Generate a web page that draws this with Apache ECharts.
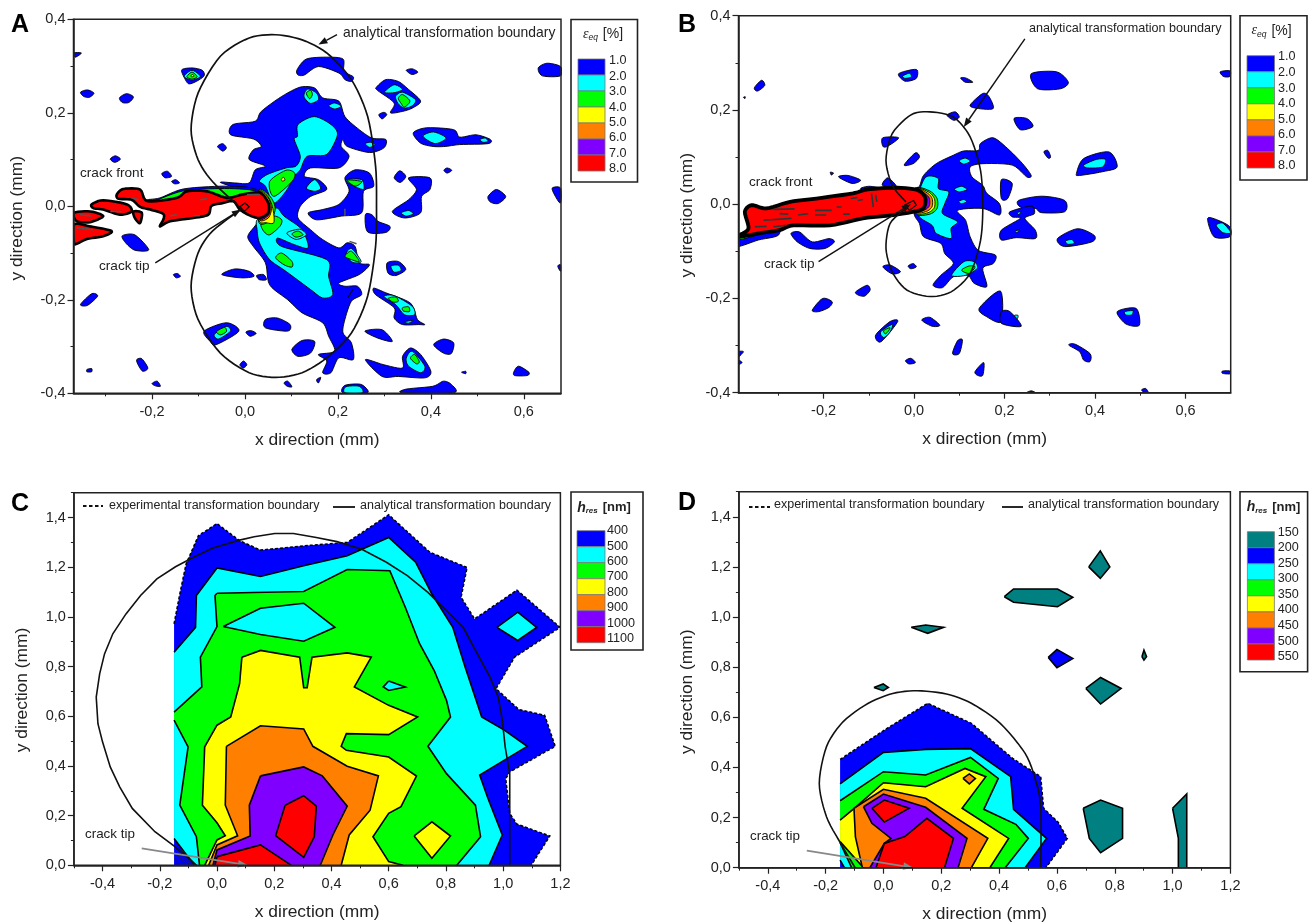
<!DOCTYPE html>
<html><head><meta charset="utf-8">
<script src="https://cdn.jsdelivr.net/npm/echarts@6/dist/echarts.min.js"></script>
<style>html,body{margin:0;padding:0;background:#fff}#c{width:1310px;height:922px}</style></head>
<body><div id="c"></div>
<script>
// ---------- colour scale labels ----------
const strainLevels=['1.0','2.0','3.0','4.0','5.0','6.0','7.0','8.0'];
const heightLevelsC=['400','500','600','700','800','900','1000','1100'];
const heightLevelsD=['150','200','250','300','350','400','450','500','550'];
const xTicksAB=[-0.2,0,0.2,0.4,0.6];
const xMinorA=[-0.3,-0.1,0.1,0.3,0.5];
const xMinorB=[-0.3,-0.1,0.1,0.3,0.5];
const yTicksAB=[-0.4,-0.2,0,0.2,0.4];
const yMinorAB=[-0.3,-0.1,0.1,0.3];
const xTicksCD=[-0.4,-0.2,0,0.2,0.4,0.6,0.8,1.0,1.2];
const xMinorCD=[-0.5,-0.3,-0.1,0.1,0.3,0.5,0.7,0.9,1.1];
const yTicksCD=[0,0.2,0.4,0.6,0.8,1.0,1.2,1.4];
const yMinorCD=[0.1,0.3,0.5,0.7,0.9,1.1,1.3,1.5];

// ---------- panel A (x mm, y mm) ----------
const aBoundary=[[-.009,-.004],[-.07,.053],[-.101,.1],[-.116,.164],[-.101,.242],[-.053,.321],[.009,.36],[.066,.367],[.123,.356],[.176,.328],[.229,.271],[.264,.192],[.281,.086],[.283,0],[.281,-.086],[.264,-.192],[.229,-.271],[.176,-.324],[.123,-.356],[.066,-.366],[.009,-.356],[-.053,-.314],[-.101,-.242],[-.116,-.171],[-.101,-.1],[-.07,-.053],[-.009,-.007]];
const aBlue=[
[[-.37,.328],[-.352,.328],[-.365,.319]],
[[-.136,.292],[-.114,.296],[-.092,.291],[-.088,.279],[-.105,.267],[-.121,.262],[-.13,.274]],
[[-.354,.244],[-.339,.249],[-.325,.242],[-.335,.233],[-.347,.235]],
[[-.27,.232],[-.255,.241],[-.24,.234],[-.25,.222],[-.264,.222]],
[[.112,.292],[.132,.315],[.176,.319],[.211,.315],[.213,.289],[.233,.277],[.229,.267],[.215,.271],[.202,.285],[.158,.299],[.128,.281],[.114,.281]],
[[.347,.291],[.36,.294],[.372,.287],[.359,.282]],
[[.283,.255],[.303,.271],[.33,.267],[.352,.25],[.378,.225],[.36,.21],[.339,.203],[.313,.2],[.321,.221],[.285,.248]],
[[.631,.296],[.65,.306],[.679,.299],[.679,.279],[.64,.279]],
[[.288,.196],[.299,.201],[.305,.196],[.295,.187]],
[[-.053,.051],[-.022,.05],[.009,.05],[.022,.078],[.044,.086],[.009,.1],[.018,.121],[.035,.128],[.018,.144],[-.031,.153],[-.026,.175],[.022,.182],[.035,.203],[.079,.235],[.119,.255],[.15,.253],[.167,.232],[.202,.225],[.215,.192],[.242,.167],[.273,.146],[.303,.143],[.299,.125],[.268,.115],[.22,.128],[.211,.143],[.207,.128],[.224,.107],[.202,.082],[.141,.082],[.128,.064],[.158,.057],[.176,.036],[.141,.021],[.119,0],[.114,-.025],[.141,-.05],[.167,-.071],[.202,-.089],[.22,-.078],[.237,-.086],[.246,-.121],[.268,-.125],[.246,-.146],[.202,-.164],[.215,-.171],[.242,-.171],[.251,-.189],[.229,-.203],[.215,-.242],[.211,-.271],[.229,-.292],[.233,-.328],[.202,-.324],[.185,-.356],[.167,-.356],[.176,-.331],[.158,-.317],[.193,-.31],[.18,-.278],[.167,-.249],[.123,-.228],[.092,-.2],[.053,-.168],[.044,-.121],[.018,-.086],[.006,-.064],[.026,-.036],[.035,-.014],[0,.03]],
[[.215,.061],[.237,.078],[.268,.071],[.277,.043],[.255,.032],[.251,-.014],[.207,-.021],[.154,-.029],[.136,-.014],[.167,-.007],[.202,.004],[.224,.032]],
[[.259,-.018],[.273,-.018],[.286,-.032],[.312,-.043],[.303,-.056],[.264,-.055]],
[[.321,.061],[.333,.076],[.346,.064],[.334,.051]],
[[.352,.061],[.398,.061],[.398,.036],[.38,.021],[.378,-.014],[.343,-.025],[.317,-.011],[.352,.014],[.369,.036]],
[[.428,.077],[.435,.082],[.445,.077],[.435,.071]],
[[.523,.021],[.541,.036],[.561,.021],[.545,.006],[.528,.009]],
[[.661,.039],[.679,.039],[.679,.007],[.668,.021]],
[[.362,.157],[.391,.168],[.449,.164],[.462,.148],[.497,.153],[.528,.143],[.523,.134],[.462,.132],[.431,.128],[.405,.128],[.378,.135]],
[[-.059,.128],[-.048,.134],[-.04,.125],[-.048,.118]],
[[-.29,.101],[-.279,.108],[-.268,.101],[-.28,.094]],
[[-.179,.07],[-.167,.075],[-.158,.064],[-.172,.061]],
[[-.158,.053],[-.149,.057],[-.141,.05],[-.151,.048]],
[[-.264,-.063],[-.237,-.061],[-.207,-.093],[-.237,-.094],[-.257,-.078]],
[[-.154,-.146],[-.145,-.144],[-.139,-.15],[-.148,-.153]],
[[-.05,-.146],[-.022,-.134],[.009,-.139],[.019,-.15],[-.009,-.153]],
[[.025,-.148],[.04,-.146],[.046,-.157],[.031,-.157]],
[[-.354,-.21],[-.33,-.187],[-.317,-.192],[-.339,-.212]],
[[.044,-.242],[.07,-.239],[.097,-.253],[.092,-.267],[.044,-.26]],
[[-.088,-.267],[-.04,-.249],[-.013,-.267],[-.062,-.296],[-.075,-.289]],
[[.002,-.269],[.013,-.266],[.024,-.272],[.011,-.278]],
[[.258,-.267],[.295,-.264],[.317,-.289],[.286,-.282]],
[[.101,-.306],[.123,-.287],[.15,-.289],[.141,-.314],[.114,-.321]],
[[.406,-.296],[.427,-.284],[.449,-.292],[.444,-.315],[.427,-.314]],
[[.339,-.321],[.356,-.303],[.378,-.317],[.4,-.353],[.387,-.367],[.33,-.364],[.295,-.364],[.259,-.328],[.299,-.339],[.339,-.346]],
[[-.233,-.328],[-.222,-.326],[-.209,-.346],[-.22,-.353],[-.23,-.339]],
[[-.34,-.349],[-.33,-.347],[-.33,-.354],[-.34,-.354]],
[[-.011,-.339],[-.003,-.331],[.004,-.339],[-.004,-.346]],
[[-.2,-.379],[-.189,-.374],[-.182,-.385],[-.193,-.384]],
[[.084,-.378],[.092,-.374],[.101,-.386],[.091,-.385]],
[[.154,-.371],[.163,-.366],[.158,-.378]],
[[.579,-.353],[.589,-.342],[.611,-.355],[.607,-.362],[.58,-.362]],
[[.466,-.355],[.475,-.353],[.475,-.358]],
[[.673,-.128],[.679,-.125],[.679,-.139]],
[[.306,-.121],[.33,-.118],[.346,-.135],[.325,-.148],[.308,-.143]],
[[.277,-.175],[.303,-.185],[.356,-.207],[.371,-.242],[.387,-.253],[.374,-.253],[.339,-.253],[.321,-.239],[.321,-.217],[.281,-.189]],
[[.211,-.399],[.215,-.383],[.25,-.381],[.264,-.399]],
[[.339,-.399],[.347,-.391],[.404,-.385],[.427,-.374],[.444,-.381],[.449,-.399]],
[[-.21,.014],[-.183,.018],[-.133,.037],[-.054,.043],[.004,.041],[.032,.032],[.032,.02],[-.039,.016],[-.082,.03],[-.125,.03],[-.147,.015],[-.21,.008]]
];
const aCyan=[
[[-.131,.278],[-.114,.291],[-.096,.278],[-.114,.27]],
[[.113,.15],[.114,.175],[.149,.192],[.185,.175],[.199,.153],[.176,.111],[.134,.107],[.119,.078],[.106,.064],[.088,.032],[.062,.007],[.044,.043],[.031,.054],[.048,.068],[.088,.082],[.11,.086],[.119,.107],[.106,.143]],
[[.026,-.029],[.053,-.011],[.07,-.004],[.084,-.021],[.123,-.05],[.136,-.089],[.106,-.082],[.07,-.068],[.079,-.086],[.176,-.114],[.18,-.15],[.189,-.189],[.167,-.196],[.141,-.178],[.088,-.139],[.053,-.114],[.031,-.078],[.026,-.05]],
[[.09,-.057],[.118,-.049],[.132,-.061],[.11,-.071]],
[[.132,.039],[.15,.057],[.163,.039],[.15,.032]],
[[.18,.215],[.193,.221],[.207,.214],[.193,.208]],
[[.128,.242],[.136,.251],[.154,.242],[.158,.228],[.141,.22],[.128,.232]],
[[.259,.134],[.27,.137],[.28,.132],[.268,.126]],
[[.218,.057],[.251,.057],[.255,.036],[.229,.046]],
[[.336,-.014],[.352,-.009],[.362,-.016],[.347,-.021]],
[[.383,.15],[.406,.159],[.433,.146],[.409,.134]],
[[.506,.143],[.517,.146],[.523,.139],[.512,.137]],
[[.3,.244],[.321,.26],[.339,.25],[.321,.243]],
[[.324,.235],[.339,.244],[.367,.228],[.36,.215],[.343,.21],[.33,.219]],
[[.217,-.104],[.229,-.09],[.25,-.118],[.232,-.12]],
[[.225,-.19],[.232,-.178],[.222,-.195]],
[[-.066,-.274],[-.04,-.257],[-.031,-.267],[-.057,-.284]],
[[.314,-.128],[.33,-.126],[.336,-.137],[.321,-.141]],
[[.299,-.193],[.321,-.191],[.36,-.214],[.365,-.232],[.343,-.232],[.325,-.211]],
[[.343,-.247],[.362,-.244],[.352,-.25]],
[[.347,-.325],[.36,-.31],[.387,-.342],[.378,-.356],[.352,-.342]],
[[.215,-.399],[.217,-.386],[.246,-.385],[.253,-.399]]
];
const aGreen=[
[[-.125,.277],[-.114,.287],[-.103,.277],[-.114,.272]],
[[.053,.053],[.088,.077],[.107,.071],[.101,.053],[.062,.021]],
[[.035,-.036],[.062,-.021],[.079,-.029],[.075,-.043],[.053,-.061],[.04,-.053]],
[[.066,-.11],[.079,-.1],[.101,-.118],[.101,-.13],[.084,-.125]],
[[.101,-.059],[.114,-.053],[.125,-.061],[.11,-.066]],
[[.132,.242],[.141,.248],[.145,.239],[.139,.23]],
[[.22,.056],[.251,.053],[.237,.043]],
[[.33,.231],[.339,.239],[.355,.225],[.343,.212],[.336,.22]],
[[.215,-.107],[.229,-.096],[.246,-.118],[.229,-.114]],
[[-.061,-.268],[-.044,-.259],[-.04,-.268],[-.053,-.275]],
[[.308,-.197],[.324,-.194],[.33,-.203],[.319,-.205]],
[[.339,-.217],[.352,-.215],[.354,-.225],[.341,-.224]],
[[.356,-.325],[.365,-.317],[.375,-.332],[.369,-.337]],
[[-.19,.012],[-.133,.033],[-.054,.038],[.004,.036],[.03,.03],[.03,.022],[-.039,.018],[-.082,.03],[-.125,.03],[-.147,.017]],
[[.03,.035],[.055,.02],[.065,-.005],[.055,-.03],[.03,-.035]]
];
const aYellow=[[[.078,.058],[.083,.062],[.086,.056],[.08,.054]],[[-.116,.28],[-.112,.282],[-.11,.278],[-.115,.277]],[[.03,.033],[.05,.02],[.06,-.005],[.062,-.035],[.045,-.035],[.03,-.03]]];
const aOrange=[[[.03,.031],[.05,.018],[.057,-.005],[.05,-.025],[.03,-.028]]];
const aPurple=[[[.03,.03],[.05,.012],[.054,-.005],[.05,-.02],[.03,-.027]]];
const aRed=[
[[-.276,.025],[-.262,.037],[-.226,.036],[-.21,.011],[-.147,.018],[-.125,.032],[-.082,.032],[-.039,.018],[-.007,.025],[.032,.029],[.05,.007],[.05,-.014],[.032,-.025],[.011,-.02],[-.011,-.007],[-.025,.011],[-.047,.007],[-.072,.001],[-.079,-.018],[-.111,-.025],[-.161,-.032],[-.183,-.043],[-.176,-.029],[-.176,-.016],[-.204,-.007],[-.226,-.001],[-.244,.014],[-.272,.016]],
[[-.33,.004],[-.305,.013],[-.254,.004],[-.244,-.011],[-.269,-.018],[-.305,-.007],[-.326,-.004]],
[[-.24,-.011],[-.222,-.014],[-.226,-.036],[-.237,-.025]],
[[-.368,-.014],[-.333,-.011],[-.305,-.021],[-.333,-.034],[-.362,-.032]],
[[-.368,-.039],[-.333,-.043],[-.287,-.053],[-.305,-.064],[-.34,-.07],[-.362,-.08],[-.368,-.078]]
];
const aSpecks=[[-.355,-.018,-.33,-.021],[-.362,-.046,-.326,-.05],[-.29,-.011,-.265,-.011],[-.244,.018,-.229,.014],[-.097,.014,-.082,.016],[-.161,-.02,-.147,-.018],[-.111,-.02,-.097,-.02],[.004,.025,.032,.025],[.215,-.005,.215,-.02],[.225,-.075,.24,-.08]];
const aTip=[[[-.011,-.001],[0,.007],[.009,-.001],[-.001,-.011]]];
const aArrows=[[.198,.367,.158,.346],[-.193,-.121,-.009,-.007]];

// ---------- panel B ----------
const bBoundary=[[-.018,.005],[-.048,.04],[-.062,.093],[-.048,.15],[-.006,.19],[.035,.196],[.087,.185],[.124,.143],[.147,.072],[.152,-.006],[.147,-.077],[.124,-.147],[.082,-.186],[.035,-.196],[-.016,-.182],[-.048,-.144],[-.062,-.094],[-.053,-.041],[-.018,-.009]];
const bBlue=[
[[.012,.038],[.021,.061],[.049,.086],[.087,.104],[.11,.113],[.142,.114],[.147,.129],[.175,.141],[.207,.118],[.24,.086],[.259,.061],[.249,.058],[.217,.083],[.152,.086],[.124,.079],[.128,.058],[.152,.04],[.161,.023],[.189,.001],[.189,-.023],[.152,-.009],[.096,-.013],[.114,-.034],[.124,-.069],[.142,-.098],[.18,-.108],[.175,-.126],[.152,-.136],[.161,-.175],[.133,-.168],[.119,-.151],[.087,-.154],[.063,-.177],[.042,-.172],[.059,-.151],[.087,-.126],[.068,-.105],[.059,-.083],[.021,-.069],[.012,-.041],[0,-.02],[0,.03]],
[[-.034,.277],[.005,.286],[.005,.267],[-.02,.261]],
[[.103,.268],[.114,.268],[.13,.259],[.113,.259]],
[[.259,.277],[.315,.281],[.341,.259],[.324,.245],[.273,.245]],
[[-.353,.247],[-.337,.263],[-.33,.252],[-.346,.24]],
[[-.377,.227],[-.373,.228],[-.374,.224]],
[[.677,.281],[.698,.283],[.698,.271],[.684,.271]],
[[.124,.21],[.152,.235],[.166,.228],[.175,.203],[.142,.203]],
[[.073,.189],[.091,.196],[.1,.185],[.088,.178]],
[[.221,.182],[.249,.182],[.263,.165],[.235,.158]],
[[-.069,.141],[-.034,.141],[-.058,.123],[-.069,.123]],
[[-.022,.083],[.003,.109],[.012,.1],[-.002,.086]],
[[.287,.111],[.296,.114],[.302,.1],[.296,.098]],
[[.359,.065],[.375,.097],[.431,.111],[.449,.079],[.417,.069],[.366,.061]],
[[-.185,.068],[-.178,.066],[-.183,.062]],
[[-.167,.058],[-.146,.061],[-.118,.051],[-.137,.044]],
[[-.07,.04],[-.058,.056],[-.039,.037]],
[[-.118,.033],[-.1,.038],[-.076,.035],[-.062,.033],[-.09,.025]],
[[.193,.052],[.217,.044],[.207,.012],[.193,.012]],
[[.231,.008],[.282,.017],[.333,.008],[.333,-.016],[.282,-.018],[.268,-.009],[.235,-.006]],
[[.212,-.016],[.259,-.004],[.266,-.02],[.245,-.03],[.268,-.055],[.268,-.073],[.226,-.071],[.193,-.076],[.193,-.055],[.235,-.03],[.217,-.027]],
[[.317,-.073],[.361,-.052],[.398,-.066],[.393,-.08],[.333,-.09]],
[[.649,-.03],[.672,-.034],[.698,-.048],[.698,-.069],[.663,-.069]],
[[-.272,-.062],[-.253,-.059],[-.225,-.08],[-.188,-.073],[-.176,-.08],[-.197,-.094],[-.23,-.094],[-.258,-.08]],
[[-.069,-.133],[-.053,-.129],[-.03,-.143],[-.048,-.148]],
[[-.013,-.131],[-.002,-.126],[.005,-.133],[-.007,-.137]],
[[-.129,-.186],[-.104,-.172],[-.097,-.182],[-.109,-.195],[-.123,-.193]],
[[-.225,-.225],[-.202,-.2],[-.181,-.207],[-.188,-.219],[-.211,-.228]],
[[.144,-.221],[.191,-.184],[.193,-.249],[.161,-.239]],
[[.193,-.228],[.212,-.228],[.237,-.259],[.193,-.253]],
[[.017,-.246],[.035,-.24],[.057,-.257],[.04,-.259]],
[[-.085,-.278],[-.053,-.249],[-.036,-.249],[-.073,-.292]],
[[.449,-.228],[.491,-.221],[.498,-.257],[.468,-.254]],
[[.096,-.29],[.107,-.288],[.1,-.317],[.085,-.317]],
[[.342,-.299],[.356,-.297],[.389,-.317],[.389,-.334],[.375,-.331],[.366,-.313]],
[[-.019,-.332],[-.007,-.327],[.003,-.336],[-.011,-.339]],
[[.135,-.355],[.154,-.336],[.152,-.363],[.14,-.363]],
[[-.388,-.313],[-.377,-.313],[-.388,-.324]],
[[-.388,-.331],[-.38,-.336],[-.388,-.34]],
[[.682,-.354],[.698,-.354],[.698,-.36],[.682,-.359]],
[[.503,-.394],[.512,-.391],[.518,-.4],[.509,-.4]],
[[.249,-.4],[.259,-.396],[.268,-.4]],
[[-.39,-.072],[-.35,-.05],[-.3,-.04],[-.3,-.066],[-.344,-.076],[-.39,-.09]]
];
const bCyan=[
[[.021,.051],[.035,.06],[.054,.054],[.054,.033],[.077,.026],[.068,.001],[.063,-.02],[.096,-.037],[.082,-.051],[.082,-.073],[.049,-.062],[.04,-.045],[.012,-.027],[.003,.001]],
[[.1,.092],[.113,.098],[.124,.091],[.11,.085]],
[[.089,.032],[.105,.038],[.117,.031],[.1,.026]],
[[.099,.006],[.11,.01],[.116,.005],[.105,.001]],
[[.083,-.151],[.11,-.122],[.133,-.122],[.14,-.136],[.114,-.151]],
[[-.025,.272],[-.01,.278],[-.006,.27],[-.02,.267]],
[[.375,.083],[.403,.095],[.423,.095],[.417,.079],[.384,.077]],
[[.335,-.078],[.349,-.075],[.354,-.083],[.34,-.085]],
[[.668,-.045],[.682,-.04],[.698,-.056],[.698,-.062],[.682,-.06]],
[[-.074,-.271],[-.048,-.255],[-.053,-.271],[-.067,-.283]],
[[.466,-.228],[.484,-.226],[.481,-.235],[.468,-.235]],
[[.222,-.236],[.23,-.236],[.228,-.243]],
[[.228,-.018],[.236,-.016],[.232,-.022]],[[.223,-.057],[.232,-.055],[.228,-.06]]
];
const bGreen=[[[.105,-.14],[.122,-.131],[.135,-.133],[.122,-.147]],[[-.067,-.268],[-.053,-.262],[-.058,-.271],[-.064,-.275]],[[-.39,-.066],[-.35,-.05],[-.33,-.048],[-.344,-.064],[-.39,-.076]],[[.005,.033],[.035,.028],[.051,.012],[.051,-.009],[.035,-.021],[.005,-.02]]];
const bYellow=[[[.005,.032],[.032,.026],[.045,.012],[.045,-.007],[.031,-.018],[.005,-.018]],[[-.39,-.064],[-.35,-.05],[-.335,-.05],[-.35,-.062],[-.39,-.071]]];
const bOrange=[[[.005,.032],[.029,.024],[.04,.012],[.04,-.005],[.028,-.015],[.005,-.016]]];
const bPurple=[[[.005,.031],[.026,.021],[.034,.012],[.034,-.003],[.024,-.012],[.005,-.014]]];
const bRed=[[[-.389,-.069],[-.366,-.052],[-.374,-.016],[-.359,-.002],[-.326,-.009],[-.274,.005],[-.216,.012],[-.135,.023],[-.105,.031],[-.046,.035],[.005,.031],[.024,.016],[.024,-.002],[.013,-.013],[-.046,-.023],[-.113,-.03],[-.186,-.045],[-.267,-.045],[-.297,-.055],[-.344,-.062]]];
const bSpecks=[[-.311,-.011,-.264,-.01],[-.219,-.013,-.182,-.013],[-.219,-.023,-.194,-.023],[-.333,-.034,-.271,-.03],[-.352,-.048,-.326,-.047],[-.124,.008,-.113,.01],[-.094,.023,-.09,-.006],[-.171,-.006,-.16,-.006],[-.297,-.02,-.278,-.021],[-.157,-.021,-.142,-.021],[-.256,-.023,-.234,-.02],[-.311,-.048,-.282,-.045],[-.085,.02,-.082,.005],[-.14,.012,-.125,.014]];
const bTip=[[[-.021,-.002],[-.001,.008],[.005,-.002],[-.01,-.013]]];
const bArrows=[[.245,.351,.11,.164],[-.211,-.122,-.007,0]];

// ---------- panel C ----------
const cBoundary=[[-.072,0],[-.147,.075],[-.217,.135],[-.296,.229],[-.34,.316],[-.373,.396],[-.4,.497],[-.416,.57],[-.422,.677],[-.41,.771],[-.393,.851],[-.364,.932],[-.318,1.012],[-.267,1.086],[-.21,1.153],[-.145,1.202],[-.087,1.237],[-.014,1.277],[.079,1.309],[.13,1.323],[.202,1.336],[.267,1.336],[.347,1.32],[.419,1.303],[.506,1.272],[.592,1.22],[.665,1.166],[.737,1.099],[.802,1.025],[.86,.958],[.91,.851],[.954,.758],[.983,.677],[.997,.584],[1.007,.477],[1.023,.369],[1.023,0]];
const cBlue=[[[-.15,.972],[-.13,1.092],[-.108,1.213],[-.065,1.327],[0,1.376],[.079,1.307],[.152,1.269],[.303,1.286],[.455,1.3],[.6,1.411],[.744,1.26],[.874,1.199],[.853,1.079],[.9,.992],[1.048,1.108],[1.199,.958],[1.04,.838],[.975,.711],[1.055,.627],[1.145,.604],[1.182,.479],[1.023,.376],[1.009,.349],[1.023,.209],[1.048,.166],[1.163,.118],[1.098,0],[-.15,0]]];
const cCyan=[[[-.15,.858],[-.075,.958],[-.072,1.086],[0,1.197],[.152,1.163],[.303,1.206],[.455,1.246],[.6,1.32],[.694,1.22],[.751,1.092],[.824,.958],[.867,.798],[.925,.597],[1.004,.544],[1.084,.479],[.918,.363],[.947,.269],[.997,.122],[.951,0],[-.079,0],[-.15,.108]]];
const cGreen=[[[0,1.095],[.303,1.102],[.455,1.191],[.604,1.186],[.658,1.039],[.708,.892],[.759,.784],[.802,.664],[.816,.597],[.737,.479],[.802,.369],[.903,.242],[.921,.115],[.838,0],[-.061,0],[-.072,.115],[-.13,.242],[-.101,.477],[-.15,.584],[-.15,.617],[-.053,.718],[-.058,.838],[0,.961],[-.007,1.086]]];
const cCyanIslands=[[[.022,.961],[.152,1.035],[.303,1.055],[.412,.958],[.303,.902],[.152,.929]],[[.6,.742],[.658,.718],[.6,.704],[.581,.718]],[[.978,.958],[1.051,1.019],[1.117,.958],[1.051,.905]]];
const cYellow=[[[.087,.838],[.152,.865],[.289,.838],[.303,.715],[.315,.715],[.332,.838],[.455,.855],[.539,.838],[.48,.718],[.6,.644],[.701,.597],[.6,.526],[.452,.53],[.434,.479],[.452,.463],[.6,.436],[.697,.359],[.643,.236],[.6,.209],[.545,.115],[.6,.015],[.65,0],[-.043,0],[0,.102],[.029,.119],[0,.171],[-.051,.242],[-.043,.477],[0,.564],[.048,.597],[.079,.731]],[[.689,.118],[.751,.175],[.816,.118],[.751,.028]]];
const cOrange=[[[.033,.479],[.152,.562],[.303,.549],[.335,.479],[.455,.399],[.564,.36],[.535,.222],[.462,.122],[.434,0],[-.029,0],[0,.082],[.072,.119],[.029,.242]]];
const cPurple=[[[.152,.36],[.303,.396],[.368,.36],[.455,.238],[.405,.122],[.361,0],[-.014,0],[0,.062],[.116,.118],[.113,.242]]];
const cRed=[[[.238,.242],[.303,.28],[.347,.238],[.34,.115],[.303,.032],[.205,.119]],[[0,.035],[.152,.082],[.26,0],[-.007,0]]];
const cHatch=[[-.15,.03,-.12,0],[-.15,.05,-.1,0],[-.145,.06,-.09,0],[-.135,.065,-.08,0],[-.125,.065,-.07,0]];
const cArrow=[[-.263,.068,.108,0]];

// ---------- panel D ----------
const dBoundary=[[.544,0],[.544,.243],[.526,.35],[.49,.456],[.404,.576],[.304,.656],[.218,.693],[.117,.706],[.032,.695],[-.054,.655],[-.14,.582],[-.197,.483],[-.222,.336],[-.197,.203],[-.148,.097],[-.098,0]];
const dBlueMain=[[[-.15,.432],[.003,.549],[.153,.656],[.304,.576],[.447,.436],[.544,.363],[.554,.237],[.605,.18],[.636,.117],[.562,0],[-.15,0]]];
const dCyan=[[[-.15,.334],[0,.46],[.146,.472],[.301,.475],[.44,.363],[.45,.233],[.564,.117],[.49,0],[-.135,0],[-.15,.03]]];
const dGreen=[[[-.15,.267],[0,.383],[.146,.37],[.301,.44],[.397,.356],[.347,.233],[.458,.173],[.501,.117],[.421,0],[-.11,0],[-.15,.1]]];
const dYellow=[[[-.15,.19],[-.097,.241],[0,.339],[.146,.323],[.282,.396],[.354,.363],[.272,.237],[.433,.117],[.368,0],[-.069,0],[-.15,.104]]];
const dOrange=[[[-.102,.237],[0,.313],[.146,.277],[.361,.117],[.304,0],[-.073,0],[-.097,.123]],[[.275,.356],[.297,.374],[.318,.356],[.297,.334]]];
const dPurple=[[[-.069,.243],[0,.294],[.146,.241],[.289,.117],[.258,0],[-.047,0],[.003,.097],[.026,.117],[-.04,.177]]];
const dRed=[[[-.04,.237],[.003,.27],[.089,.237],[.003,.182]],[[-.026,0],[.003,.097],[.074,.124],[.15,.197],[.242,.117],[.211,0]]];
const dTeal=[[[.71,1.2],[.75,1.264],[.783,1.2],[.75,1.154]],[[.418,1.081],[.45,1.112],[.602,1.112],[.655,1.079],[.602,1.041],[.45,1.059]],[[.096,.959],[.146,.968],[.208,.959],[.153,.935]],[[.894,.842],[.901,.868],[.91,.842],[.901,.828]],[[-.033,.719],[-.001,.733],[.017,.719],[-.001,.706]],[[.7,.715],[.751,.759],[.822,.715],[.751,.653]],[[.691,.237],[.751,.27],[.827,.237],[.827,.117],[.751,.06],[.712,.117]],[[1,.237],[1.049,.294],[1.049,0],[1.02,0],[1.02,.117],[1.01,.177]]];
const dBlueIsland=[[[.57,.839],[.6,.871],[.655,.835],[.6,.798]]];
const dArrow=[[-.265,.068,.103,0]];

// ---------- styling ----------
const KEY=['#0000ff','#00ffff','#00ff00','#ffff00','#ff8000','#8000ff','#ff0000'];
const [BLUE,CYAN,GREEN,YELLOW,ORANGE,PURPLE,RED]=KEY;
const TEAL='#008080';
const FONT='"Liberation Sans",Arial,sans-serif';
const TXT='#222';
const comma=v=>Number(v).toFixed(1).replace('.',',');
const grids=[
 {left:73.5,top:19.3,width:487.5,height:374},
 {left:738.5,top:15.7,width:492.2,height:377},
 {left:73.9,top:492.7,width:486.5,height:372.6},
 {left:738.9,top:491.7,width:491.5,height:376}
];
const ranges=[
 {x:[-.369,.68],y:[-.4,.4],xt:xTicksAB,xm:xMinorA,yt:yTicksAB,ym:yMinorAB,ng:[38,48],pad:24},
 {x:[-.388,.7],y:[-.4,.4],xt:xTicksAB,xm:xMinorB,yt:yTicksAB,ym:yMinorAB,ng:[38,43],pad:22},
 {x:[-.5,1.2],y:[0,1.5],xt:xTicksCD,xm:xMinorCD,yt:yTicksCD,ym:yMinorCD,ng:[38,43],pad:22},
 {x:[-.5,1.2],y:[0,1.5],xt:xTicksCD,xm:xMinorCD,yt:yTicksCD,ym:yMinorCD,ng:[38,43],pad:24}
];
const xAxis=[],yAxis=[];
ranges.forEach((r,i)=>{
 const common={type:'value',splitLine:{show:false},z:6};
 xAxis.push({...common,gridIndex:i,min:r.x[0],max:r.x[1],position:'bottom',name:'x direction (mm)',nameLocation:'middle',nameGap:r.ng[0],
  nameTextStyle:{fontFamily:FONT,fontSize:17.4,color:TXT},
  axisLine:{show:true,onZero:false,lineStyle:{color:'#222',width:1.5}},
  axisTick:{show:true,length:6,customValues:r.xt,lineStyle:{color:'#222',width:1.2}},
  axisLabel:{show:true,customValues:r.xt,formatter:comma,fontFamily:FONT,fontSize:14.5,color:TXT,margin:11}});
 xAxis.push({...common,gridIndex:i,min:r.x[0],max:r.x[1],position:'bottom',
  axisLine:{show:false,onZero:false},axisLabel:{show:false},
  axisTick:{show:true,length:3,customValues:r.xm,lineStyle:{color:'#222',width:1}}});
 yAxis.push({...common,gridIndex:i,min:r.y[0],max:r.y[1],position:'left',name:'y direction (mm)',nameLocation:'middle',nameGap:r.ng[1],
  nameTextStyle:{fontFamily:FONT,fontSize:17.4,color:TXT,padding:[0,r.pad,0,0]},
  axisLine:{show:true,onZero:false,lineStyle:{color:'#222',width:1.5}},
  axisTick:{show:true,length:6,customValues:r.yt,lineStyle:{color:'#222',width:1.2}},
  axisLabel:{show:true,customValues:r.yt,formatter:comma,fontFamily:FONT,fontSize:14.5,color:TXT,margin:8}});
 yAxis.push({...common,gridIndex:i,min:r.y[0],max:r.y[1],position:'left',
  axisLine:{show:false,onZero:false},axisLabel:{show:false},
  axisTick:{show:true,length:3,customValues:r.ym,lineStyle:{color:'#222',width:1}}});
});
// cardinal spline through projected points, for the rounded contours of A and B
function spline(xy,closed){
 const out=[],n=xy.length,k=0.42,steps=6;
 const at=i=>closed?xy[(i+n)%n]:xy[Math.max(0,Math.min(n-1,i))];
 const last=closed?n:n-1;
 for(let i=0;i<last;i++){
  const p0=at(i-1),p1=at(i),p2=at(i+1),p3=at(i+2);
  const m1=[(p2[0]-p0[0])*k,(p2[1]-p0[1])*k],m2=[(p3[0]-p1[0])*k,(p3[1]-p1[1])*k];
  for(let s=0;s<steps;s++){
   const t=s/steps,t2=t*t,t3=t2*t,a=2*t3-3*t2+1,b=t3-2*t2+t,c=-2*t3+3*t2,d=t3-t2;
   out.push([a*p1[0]+b*m1[0]+c*p2[0]+d*m2[0],a*p1[1]+b*m1[1]+c*p2[1]+d*m2[1]]);
  }
 }
 if(!closed) out.push(xy[n-1]);
 return out;
}
function base(panel,data,ri){
 return {type:'custom',coordinateSystem:'cartesian2d',xAxisIndex:panel*2,yAxisIndex:panel*2,clip:true,silent:true,animation:false,z:2,data,encode:{x:0,y:1},renderItem:ri};
}
function polys(panel,list,color,o={}){
 return base(panel,list.map(p=>[p[0][0],p[0][1]]),(params,api)=>{
  const pts=list[params.dataIndex], xy=pts.map(p=>api.coord(p));
  if(!o.cut){
   const shape=o.round?spline(xy,true):xy;
   return {type:'polygon',shape:{points:shape},style:{fill:color,stroke:'#000',lineWidth:o.lw||0.9,lineJoin:'round'}};
  }
  const children=[{type:'polygon',shape:{points:xy},style:{fill:color,stroke:null}}];
  let run=[];
  const n=pts.length;
  const flush=()=>{ if(run.length>1) children.push({type:'polyline',shape:{points:run},style:{fill:null,stroke:'#000',lineWidth:o.lw||1.6,lineDash:o.dash||null}}); run=[]; };
  for(let i=0;i<n;i++){
   const a=pts[i],b=pts[(i+1)%n];
   const skip=(a[0]===-.15&&b[0]===-.15)||(a[1]===0&&b[1]===0);
   if(skip){flush();continue;}
   if(!run.length) run.push(xy[i]);
   run.push(xy[(i+1)%n]);
  }
  flush();
  return {type:'group',children};
 });
}
function segs(panel,list,color,lw){
 return base(panel,list.map(s=>[s[0],s[1]]),(params,api)=>{
  const s=list[params.dataIndex],a=api.coord([s[0],s[1]]),b=api.coord([s[2],s[3]]);
  return {type:'line',shape:{x1:a[0],y1:a[1],x2:b[0],y2:b[1]},style:{stroke:color,lineWidth:lw}};
 });
}
function arrows(panel,list,color,lw,size){
 return Object.assign(base(panel,list.map(s=>[s[0],s[1]]),(params,api)=>{
  const s=list[params.dataIndex],a=api.coord([s[0],s[1]]),b=api.coord([s[2],s[3]]);
  const ang=Math.atan2(b[1]-a[1],b[0]-a[0]),c=Math.cos(ang),d=Math.sin(ang);
  const bx=b[0]-c*size,by=b[1]-d*size,w=size*0.38;
  return {type:'group',children:[
   {type:'line',shape:{x1:a[0],y1:a[1],x2:bx,y2:by},style:{stroke:color,lineWidth:lw}},
   {type:'polygon',shape:{points:[b,[bx-d*w,by+c*w],[bx+d*w,by-c*w]]},style:{fill:color}}
  ]};
 }),{clip:false,z:4});
}
function boundary(panel,data,round,lw){
 return Object.assign(base(panel,[[data[0][0],data[0][1]]],(params,api)=>{
  const xy=data.map(p=>api.coord(p));
  return {type:'polyline',shape:{points:round?spline(xy,false):xy},style:{fill:null,stroke:'#111',lineWidth:lw}};
 }),{z:3});
}
const R={round:true};
const series=[
 // A
 polys(0,aBlue,BLUE,R),polys(0,aCyan,CYAN,R),polys(0,aGreen,GREEN,R),polys(0,aYellow,YELLOW,R),polys(0,aOrange,ORANGE,R),polys(0,aPurple,PURPLE,R),
 polys(0,aRed,RED,{round:true,lw:2.6}),segs(0,aSpecks,'#555',1.5),polys(0,aTip,RED,{lw:1.2}),
 boundary(0,aBoundary,true,1.7),arrows(0,aArrows,'#111',1.4,9),
 // B
 polys(1,bBlue,BLUE,R),polys(1,bCyan,CYAN,R),polys(1,bGreen,GREEN,R),polys(1,bYellow,YELLOW,R),polys(1,bOrange,ORANGE,R),polys(1,bPurple,PURPLE,R),
 polys(1,bRed,RED,{round:true,lw:3.8}),segs(1,bSpecks,'#333',1.6),polys(1,bTip,RED,{lw:1.2}),
 boundary(1,bBoundary,true,1.6),arrows(1,bArrows,'#111',1.4,9),
 // C
 polys(2,cBlue,BLUE,{cut:1,dash:[3,2],lw:1.5}),polys(2,cCyan,CYAN,{cut:1}),polys(2,cGreen,GREEN,{cut:1}),polys(2,cCyanIslands,CYAN,{cut:1}),polys(2,cYellow,YELLOW,{cut:1}),polys(2,cOrange,ORANGE,{cut:1}),polys(2,cPurple,PURPLE,{cut:1}),polys(2,cRed,RED,{cut:1}),
 segs(2,cHatch,'#222',.7),boundary(2,cBoundary,false,1.6),arrows(2,cArrow,'#888',1.8,10),
 // D
 polys(3,dTeal,TEAL,{cut:1}),polys(3,dBlueIsland,BLUE,{cut:1}),polys(3,dBlueMain,BLUE,{cut:1,dash:[3,2],lw:1.5}),polys(3,dCyan,CYAN,{cut:1}),polys(3,dGreen,GREEN,{cut:1}),polys(3,dYellow,YELLOW,{cut:1}),polys(3,dOrange,ORANGE,{cut:1}),polys(3,dPurple,PURPLE,{cut:1}),polys(3,dRed,RED,{cut:1}),
 boundary(3,dBoundary,true,1.6),arrows(3,dArrow,'#888',1.8,10)
];
// ---------- page furniture ----------
const g=[];
const txt=(text,x,y,size,o={})=>g.push({type:'text',silent:true,z:20,style:{text,x,y,fill:o.fill||TXT,fontFamily:FONT,fontSize:size,fontWeight:o.w||'normal',align:o.align||'left',verticalAlign:'middle',rich:o.rich}});
const box=(x,y,w,h,fill,stroke,lw)=>g.push({type:'rect',silent:true,z:19,shape:{x,y,width:w,height:h},style:{fill:fill||'none',stroke:stroke||'none',lineWidth:lw||1}});
function colourKey(k){
 box(k.bx,k.by,k.bw,k.bh,'#fff','#222',1.6);
 const n=k.colors.length,h=(k.sy1-k.sy0)/n;
 k.colors.forEach((c,i)=>box(k.sx,k.sy0+i*h,k.sw,h,c,'#777',.8));
 k.labels.forEach((t,i)=>txt(t,k.lx,k.ly+i*k.ls,12.6));
 txt(k.title,k.tx,k.ty,14,{align:'center',rich:k.rich});
}
const strainRich={e:{fontFamily:'"Liberation Serif",serif',fontStyle:'italic',fontSize:14,fill:TXT},s:{fontFamily:FONT,fontStyle:'italic',fontSize:8.5,fill:TXT,padding:[7,1,0,0]},n:{fontFamily:FONT,fontSize:14,fill:TXT}};
const hRich={e:{fontFamily:FONT,fontStyle:'italic',fontWeight:'bold',fontSize:14,fill:TXT},s:{fontFamily:FONT,fontStyle:'italic',fontWeight:'bold',fontSize:8,fill:TXT,padding:[7,1,0,0]},n:{fontFamily:FONT,fontWeight:'bold',fontSize:13,fill:TXT}};
colourKey({bx:571,by:19.5,bw:66.5,bh:162.5,sx:578,sw:27,sy0:59,sy1:171,colors:KEY,labels:strainLevels,lx:609,ly:61,ls:15.4,title:'{e|ε}{s|eq} {n|[%]}',tx:603,ty:34,rich:strainRich});
colourKey({bx:1240,by:15.7,bw:67,bh:164.3,sx:1247,sw:27.5,sy0:55.7,sy1:168,colors:KEY,labels:strainLevels,lx:1278,ly:57,ls:15.57,title:'{e|ε}{s|eq} {n|[%]}',tx:1271.6,ty:30.7,rich:strainRich});
colourKey({bx:571,by:492,bw:72,bh:158,sx:577,sw:28,sy0:530.7,sy1:642.7,colors:KEY,labels:heightLevelsC,lx:607,ly:530.7,ls:15.4,title:'{e|h}{s|res} {n|[nm]}',tx:604,ty:507.7,rich:hRich});
colourKey({bx:1240,by:491.7,bw:67.6,bh:180,sx:1247.4,sw:27,sy0:531.7,sy1:660,colors:[TEAL].concat(KEY),labels:heightLevelsD,lx:1277.7,ly:532.3,ls:15.54,title:'{e|h}{s|res} {n|[nm]}',tx:1273.5,ty:507.3,rich:hRich});
txt('A',11,25,25,{w:'bold',fill:'#000'});
txt('B',678,25,25,{w:'bold',fill:'#000'});
txt('C',11,504,25,{w:'bold',fill:'#000'});
txt('D',678,503,25,{w:'bold',fill:'#000'});
txt('analytical transformation boundary',343,33,13.9);
txt('crack front',80,173,13.6);
txt('crack tip',99,266,13.6);
txt('analytical transformation boundary',1029,29,12.6);
txt('crack front',749,182,13.6);
txt('crack tip',764,264,13.6);
txt('crack tip',85,834,13.4);
txt('crack tip',750,836,13.4);
const lineKey=(x1,x2,y,dash)=>g.push({type:'line',silent:true,z:20,shape:{x1,y1:y,x2,y2:y},style:{stroke:'#111',lineWidth:1.8,lineDash:dash}});
lineKey(83,103,506,[3.5,2.5]);txt('experimental transformation boundary',109,505.7,12.5);
lineKey(333,355,507,null);txt('analytical transformation boundary',360,505.7,12.5);
lineKey(749,770,507,[3.5,2.5]);txt('experimental transformation boundary',774,505,12.5);
lineKey(1002,1023,507,null);txt('analytical transformation boundary',1028,505,12.5);

const chart=echarts.init(document.getElementById('c'),null,{renderer:'canvas',width:1310,height:922});
chart.setOption({backgroundColor:'#fff',animation:false,
 grid:grids.map(b=>({...b,show:true,backgroundColor:'transparent',borderColor:'#222',borderWidth:1.5,z:5,containLabel:false,outerBoundsMode:'none'})),
 xAxis,yAxis,series,graphic:g,tooltip:{show:false},legend:{show:false}});
</script></body></html>
